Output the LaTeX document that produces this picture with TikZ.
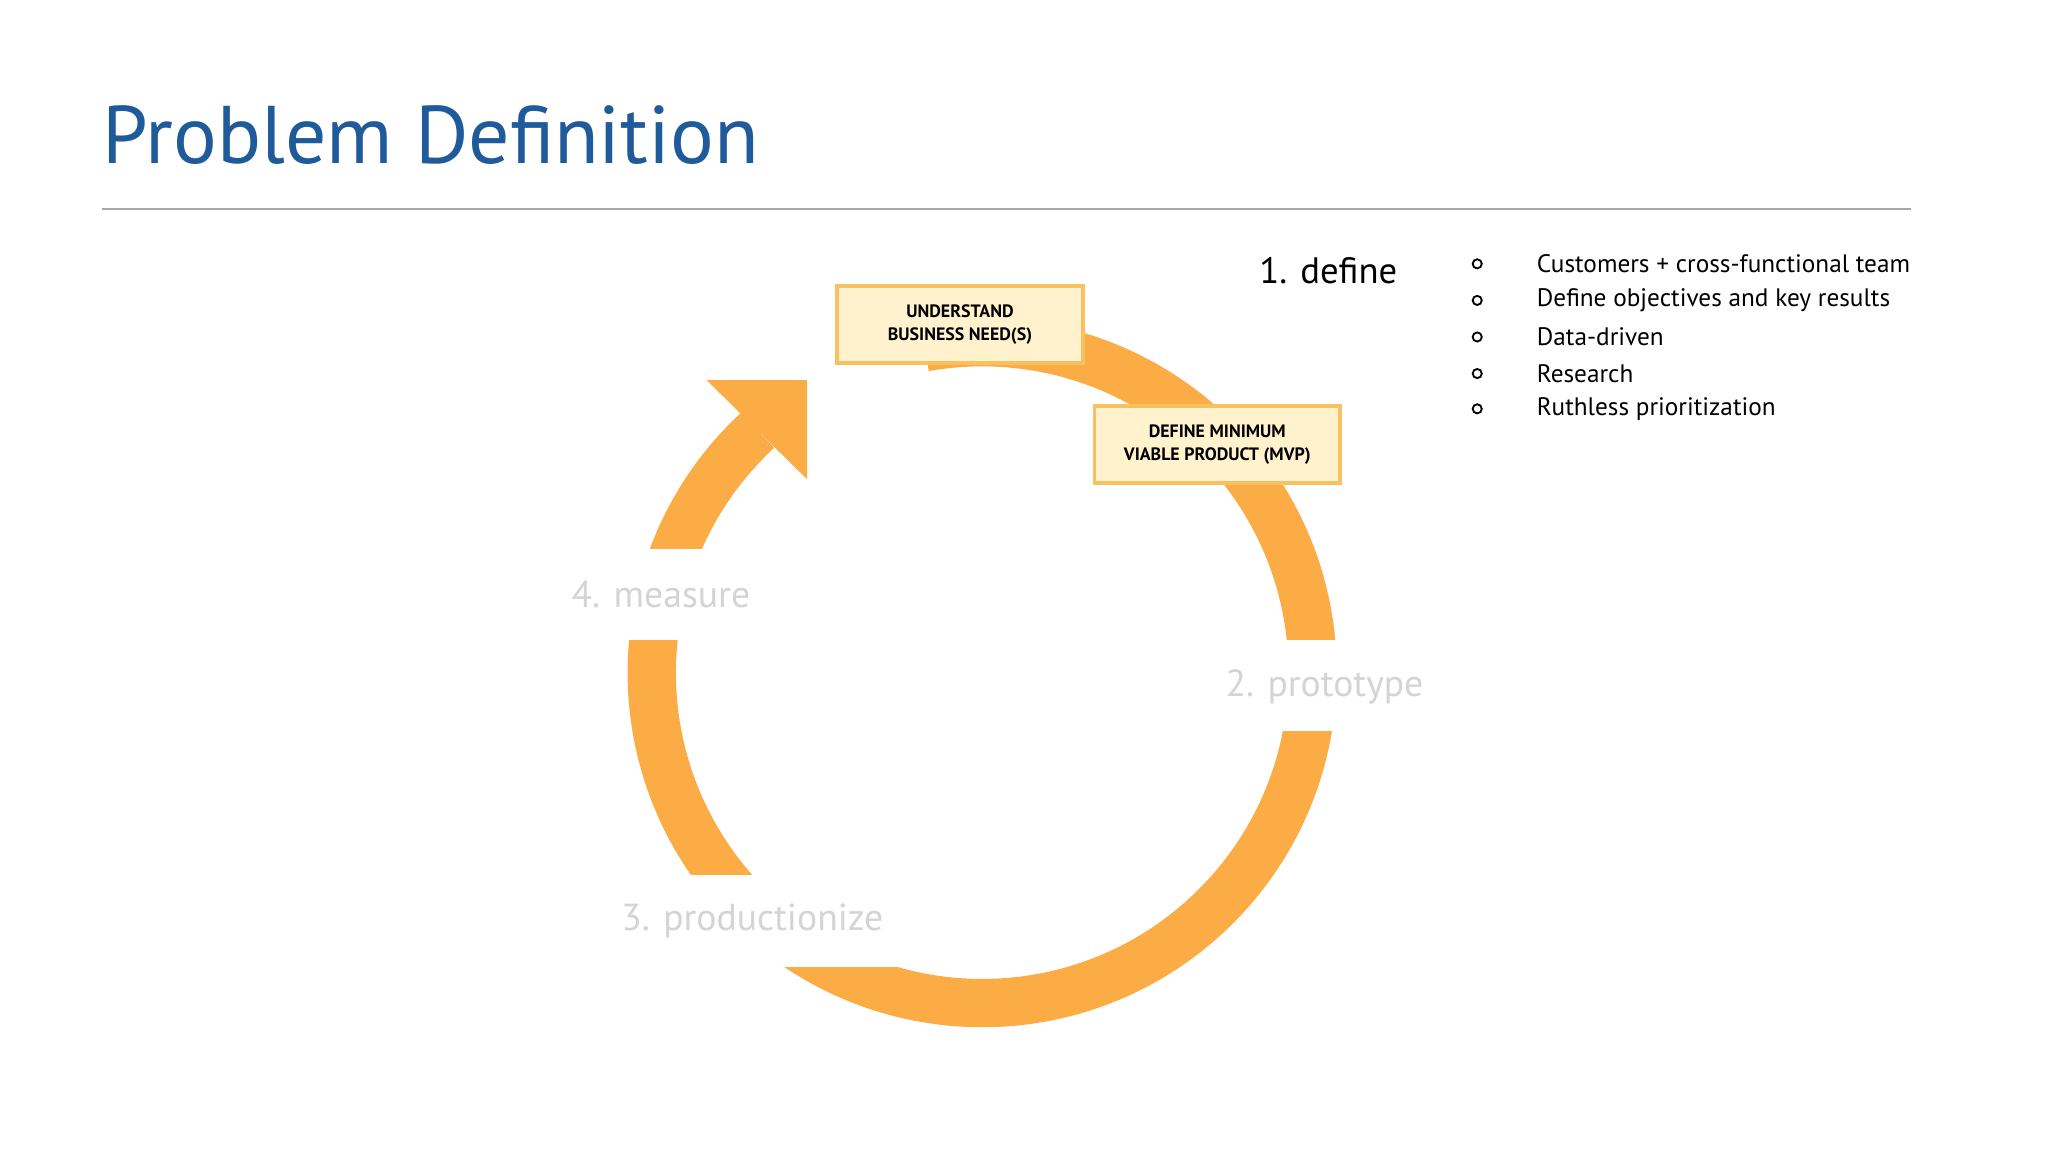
\documentclass[tikz,border=0pt]{standalone}
\usepackage{fontspec}
\setmainfont{PT Sans}
\definecolor{ring}{HTML}{FBAC45}
\definecolor{title}{HTML}{1F5A9A}
\definecolor{boxfill}{HTML}{FFF2CC}
\definecolor{boxline}{HTML}{F7C060}
\definecolor{lbl}{HTML}{D4D4D4}
\begin{document}
\begin{tikzpicture}[x=0.01cm,y=-0.01cm,
  stepbox/.style={draw=boxline,line width=0.8pt,fill=boxfill,minimum width=188*0.01cm,minimum height=59*0.01cm,align=center,font=\fontsize{3.9}{4.9}\selectfont\bfseries,inner sep=0pt},
  phase/.style={text=lbl,font=\fontsize{8.2}{9}\selectfont,fill=white,inner sep=0pt},
  bul/.style={anchor=west,font=\fontsize{5.5}{6.5}\selectfont,inner sep=0pt}]
\useasboundingbox (0,0) rectangle (1568,882);
\fill[white] (0,0) rectangle (1568,882);
\node[anchor=base west,text=title,font=\fontsize{17.8}{20}\selectfont,inner sep=0pt] (t) at (78,125) {Problem Definition};
\draw[gray!70,line width=0.5pt] (78,160) coordinate (l1) -- (1463,160) coordinate (l2);
% ring
\coordinate (c) at (752,515);
\draw[ring,line width=37*0.01cm] ([shift={(227.2:253)}]c) arc[start angle=227.2,end angle=-100,radius=253];
\fill[ring] (541,291) -- (618,291) -- (618,367) -- cycle;
% gaps
\fill[white] (420,420) rectangle (600,490);
\fill[white] (900,490) rectangle (1100,560);
\fill[white] (440,670) rectangle (690,740);
\node[phase] (m) at (506,455) {4. measure};
\node[phase] (p) at (1014,526) {2. prototype};
\node[phase] (q) at (576,705) {3. productionize};
\node[stepbox] (b1) at (735,248.5) {UNDERSTAND\\BUSINESS NEED(S)};
\node[stepbox] (b2) at (932,340.5) {DEFINE MINIMUM\\VIABLE PRODUCT (MVP)};
\node[font=\fontsize{8}{9}\selectfont,inner sep=0pt] (d) at (1017,207) {1. define};
\foreach \y/\t [count=\i] in {202/Customers + cross-functional team,230/Define objectives and key results,258/Data-driven,286/Research,313/Ruthless prioritization}{
  \draw[line width=0.4pt] (1131,\y) circle (3.5);
  \node[bul] (bt\i) at (1176,\y) {\t};
}
\end{tikzpicture}
\end{document}
